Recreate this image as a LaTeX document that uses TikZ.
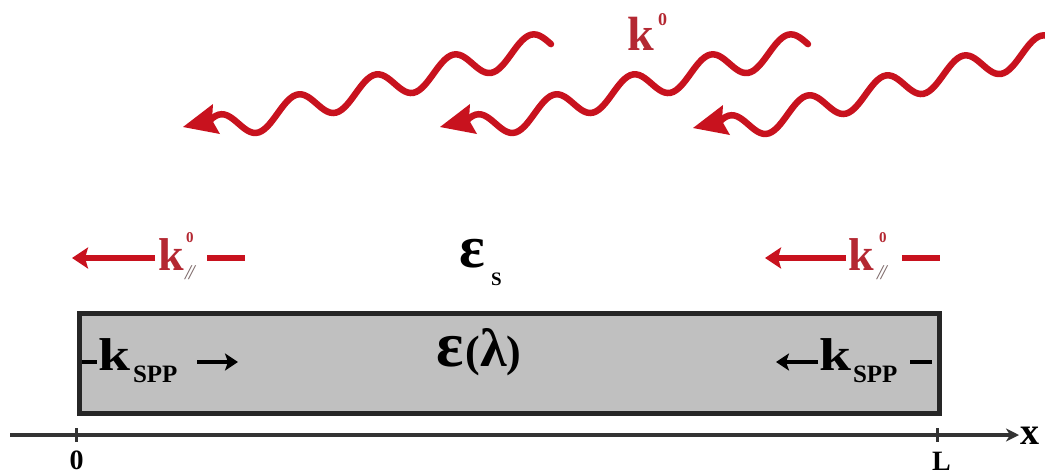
\documentclass[tikz,border=0pt]{standalone}
\usepackage{fontspec}
\setmainfont{Liberation Serif}
\usetikzlibrary{arrows.meta}
\definecolor{wavered}{RGB}{200,18,30}
\definecolor{kred}{RGB}{180,40,50}
\definecolor{boxgray}{RGB}{192,192,192}
\definecolor{subgray}{RGB}{125,105,105}
\newcommand{\fsz}[1]{\fontsize{#1}{#1}\selectfont}
\newcommand{\wavearrow}[2]{%
  \begin{scope}[shift={(#1,#2)}]
    \fill[wavered] (0,0) -- (30,-23) -- (29,-7) -- (37,7) -- cycle;
    \draw[wave] plot[domain=27:368,samples=120,smooth]
      (\x,{-23-0.256*(\x-132)-14*cos(4.615*(\x-114))});
  \end{scope}}
\begin{document}
\begin{tikzpicture}[x=1pt,y=-1pt,
  wave/.style={draw=wavered,line width=6.5pt,line cap=round},
  txt/.style={inner sep=0pt,outer sep=0pt,anchor=base west},
  redarrow/.style={draw=wavered,line width=6pt,-{Stealth[length=16pt,width=21pt,inset=3pt]}},
  redline/.style={draw=wavered,line width=6pt},
  blackarrow/.style={draw=black,line width=4pt,-{Stealth[length=13pt,width=17pt,inset=3pt]}},
  blackline/.style={draw=black,line width=4pt},
  axis/.style={draw=black!80,line width=3.5pt,-{Stealth[length=13pt,width=13pt,inset=4pt]}},
  tick/.style={draw=black!80,line width=3pt}]
\useasboundingbox (0,0) rectangle (1045,475);
\begin{scope}
  \clip (0,0) rectangle (1045,475);
  \wavearrow{183}{127}
  \wavearrow{440}{127}
  \wavearrow{693}{128}
\end{scope}
% k^0 top
\node[txt,text=kred] (ktop) at (627,50) {\fsz{48}\bfseries k};
\node[txt,text=kred] (ktop0) at (658,25) {\fsz{18}\bfseries 0};
% box
\node[draw=black!85,line width=5pt,fill=boxgray,minimum width=860pt,minimum height=100.5pt,inner sep=0pt,anchor=north west] (slab) at (76.5,310.5) {};
% axis
\coordinate (ax0) at (10,435);
\coordinate (ax1) at (1019,435);
\draw[axis] (ax0) -- (ax1);
\coordinate (t0a) at (76.5,428); \coordinate (t0b) at (76.5,442);
\coordinate (tLa) at (937,428); \coordinate (tLb) at (937,442);
\draw[tick] (t0a) -- (t0b);
\draw[tick] (tLa) -- (tLb);
\node[inner sep=0pt,anchor=base] (zero) at (76.5,469) {\fsz{28}\bfseries 0};
\node[txt] (ell) at (932,470) {\fsz{28}\bfseries L};
\node[txt] (xlab) at (1020,444) {\fsz{38}\bfseries x};
% epsilon_s
\node[txt] (eps) at (459,267) {\fsz{60}\bfseries ε};
\node[txt] (epss) at (491,285) {\fsz{19}\bfseries S};
% epsilon(lambda)
\node[inner sep=0pt,anchor=base] (epsl) at (479,366) {{\fsz{64}\bfseries ε}\kern2pt{\fsz{44}\bfseries(}{\fsz{54}\bfseries λ}{\fsz{44}\bfseries)}};
% left k_par
\node[txt,text=kred] (kpl) at (158,270) {\fsz{46}\bfseries k};
\node[txt,text=kred] (kpl0) at (186,242) {\fsz{15}\bfseries 0};
\node[txt,text=subgray] (kpls) at (185,279) {\fsz{21}\itshape /\kern-2pt/};
\coordinate (kplA) at (155,258); \coordinate (kplB) at (72,258);
\coordinate (kplC) at (207,258); \coordinate (kplD) at (245,258);
\draw[redarrow] (kplA) -- (kplB);
\draw[redline] (kplC) -- (kplD);
% right k_par
\node[txt,text=kred] (kpr) at (848,270) {\fsz{46}\bfseries k};
\node[txt,text=kred] (kpr0) at (879,242) {\fsz{15}\bfseries 0};
\node[txt,text=subgray] (kprs) at (877,279) {\fsz{21}\itshape /\kern-2pt/};
\coordinate (kprA) at (846,258); \coordinate (kprB) at (765,258);
\coordinate (kprC) at (902,258); \coordinate (kprD) at (940,258);
\draw[redarrow] (kprA) -- (kprB);
\draw[redline] (kprC) -- (kprD);
% left k_SPP
\coordinate (ksl1) at (82,362); \coordinate (ksl2) at (97,362);
\draw[blackline] (ksl1) -- (ksl2);
\node[txt] (ksl) at (98,370) {\fsz{46}\bfseries\scalebox{1.25}[1]{k}};
\node[txt] (ksls) at (133,382) {\fsz{25}\bfseries SPP};
\coordinate (ksl3) at (197,362); \coordinate (ksl4) at (238,362);
\draw[blackarrow] (ksl3) -- (ksl4);
% right k_SPP
\coordinate (ksr3) at (818,362); \coordinate (ksr4) at (776,362);
\draw[blackarrow] (ksr3) -- (ksr4);
\node[txt] (ksr) at (819,370) {\fsz{46}\bfseries\scalebox{1.25}[1]{k}};
\node[txt] (ksrs) at (853,382) {\fsz{25}\bfseries SPP};
\coordinate (ksr1) at (910,362); \coordinate (ksr2) at (932,362);
\draw[blackline] (ksr1) -- (ksr2);
\end{tikzpicture}
\end{document}
